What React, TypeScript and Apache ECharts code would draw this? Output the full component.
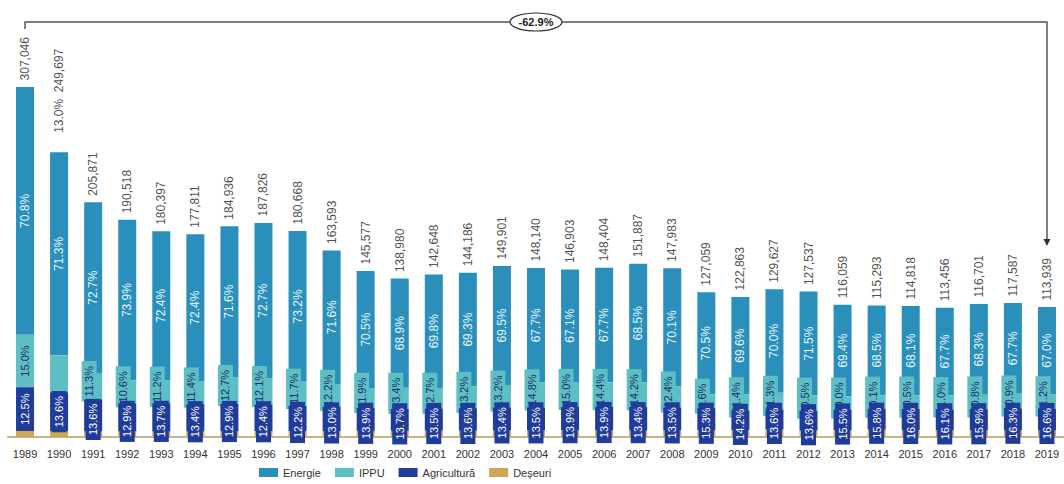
import React, { useEffect, useRef } from "react";
import * as echarts from "echarts";

const years = [
  "1989", "1990", "1991", "1992", "1993", "1994", "1995", "1996", "1997", "1998",
  "1999", "2000", "2001", "2002", "2003", "2004", "2005", "2006", "2007", "2008",
  "2009", "2010", "2011", "2012", "2013", "2014", "2015", "2016", "2017", "2018", "2019",
];
const totals = [
  307046, 249697, 205871, 190518, 180397, 177811, 184936, 187826, 180668, 163593,
  145577, 138980, 142648, 144186, 149901, 148140, 146903, 148404, 151887, 147983,
  127059, 122863, 129627, 127537, 116059, 115293, 114818, 113456, 116701, 117587, 113939,
];
const energiePct = [
  70.8, 71.3, 72.7, 73.9, 72.4, 72.4, 71.6, 72.7, 73.2, 71.6,
  70.5, 68.9, 69.8, 69.3, 69.5, 67.7, 67.1, 67.7, 68.5, 70.1,
  70.5, 69.6, 70.0, 71.5, 69.4, 68.5, 68.1, 67.7, 68.3, 67.7, 67.0,
];
const ippuPct = [
  15.0, 13.0, 11.3, 10.6, 11.2, 11.4, 12.7, 12.1, 11.7, 12.2,
  11.9, 13.4, 12.7, 13.2, 13.2, 14.8, 15.0, 14.4, 14.2, 12.4,
  9.6, 11.4, 11.3, 10.5, 10.0, 10.1, 10.5, 11.0, 10.8, 10.9, 11.2,
];
const agriPct = [
  12.5, 13.6, 13.6, 12.9, 13.7, 13.4, 12.9, 12.4, 12.2, 13.0,
  13.9, 13.7, 13.5, 13.6, 13.4, 13.5, 13.9, 13.9, 13.4, 13.5,
  15.3, 14.2, 13.6, 13.6, 15.5, 15.8, 16.0, 16.1, 15.9, 16.3, 16.6,
];
const seriesNames = ["Energie", "IPPU", "Agricultură", "Deșeuri"];

const COLORS = {
  energie: "#2b8fbc",
  ippu: "#5dbfc3",
  agri: "#1f3c9a",
  deseuri: "#cfa655",
};
const FONT = "Liberation Sans, Arial, sans-serif";

const fmtPct = (v: number) => v.toFixed(1) + "%";
const fmtTotal = (v: number) => v.toLocaleString("en-US");

export default function App() {
  const ref = useRef<HTMLDivElement>(null);

  useEffect(() => {
    if (!ref.current) return;
    const chart = echarts.init(ref.current, undefined, { renderer: "svg" });

    const deseuriPct = energiePct.map((e, i) => +(100 - e - ippuPct[i] - agriPct[i]).toFixed(1));
    const val = (pct: number[]) => pct.map((p, i) => (totals[i] * p) / 100);

    const energieData = val(energiePct);
    const ippuData = val(ippuPct).map((v, i) => {
      if (i === 1) return { value: v, label: { show: false } };
      if (i >= 2) return { value: v, label: { offset: [5, -4] } };
      return v;
    });
    const agriData = val(agriPct).map((v, i) => {
      if (i >= 2) return { value: v, label: { offset: [-4, 0] } };
      return v;
    });
    const deseuriData = val(deseuriPct);

    const totalData = totals.map((t, i) => {
      if (i === 1)
        return {
          value: t,
          label: {
            formatter: fmtPct(ippuPct[1]) + "  " + fmtTotal(t),
            distance: 19,
          },
        };
      return t;
    });

    chart.setOption({
      animation: false,
      textStyle: { fontFamily: FONT },
      grid: { left: 8, right: 0, top: 38, bottom: 47, containLabel: false },
      legend: {
        data: seriesNames,
        left: 254,
        top: 462,
        icon: "rect",
        itemWidth: 19,
        itemHeight: 9,
        itemGap: 14,
        textStyle: { fontSize: 11, color: "#333", fontFamily: FONT },
      },
      xAxis: {
        type: "category",
        data: years,
        axisLine: { lineStyle: { color: "#c8b488", width: 2 } },
        axisTick: { show: false },
        axisLabel: { fontSize: 11, color: "#333", margin: 11, interval: 0, fontFamily: FONT },
      },
      yAxis: {
        type: "value",
        min: 0,
        max: 350000,
        show: false,
        splitLine: { show: false },
      },
      series: [
        {
          name: "Deșeuri",
          type: "bar",
          stack: "total",
          barWidth: 18,
          data: deseuriData,
          itemStyle: { color: COLORS.deseuri },
          z: 2,
        },
        {
          name: "Agricultură",
          type: "bar",
          stack: "total",
          barWidth: 18,
          data: agriData,
          itemStyle: { color: COLORS.agri },
          z: 4,
          label: {
            show: true,
            position: "inside",
            rotate: 90,
            fontSize: 11,
            color: "#ffffff",
            backgroundColor: COLORS.agri,
            padding: [2, 5],
            fontFamily: FONT,
            formatter: (p: any) => fmtPct(agriPct[p.dataIndex]),
          },
        },
        {
          name: "IPPU",
          type: "bar",
          stack: "total",
          barWidth: 18,
          data: ippuData,
          itemStyle: { color: COLORS.ippu },
          z: 3,
          label: {
            show: true,
            position: "inside",
            rotate: 90,
            fontSize: 11,
            color: "#1b2d6b",
            backgroundColor: COLORS.ippu,
            padding: [2, 5],
            fontFamily: FONT,
            formatter: (p: any) => fmtPct(ippuPct[p.dataIndex]),
          },
        },
        {
          name: "Energie",
          type: "bar",
          stack: "total",
          barWidth: 18,
          data: energieData,
          itemStyle: { color: COLORS.energie },
          z: 2,
          label: {
            show: true,
            position: "inside",
            rotate: 90,
            fontSize: 12,
            color: "#e4f6fa",
            fontFamily: FONT,
            formatter: (p: any) => fmtPct(energiePct[p.dataIndex]),
          },
        },
        {
          name: "total",
          type: "scatter",
          data: totalData,
          symbolSize: 1,
          itemStyle: { color: "rgba(0,0,0,0)" },
          z: 5,
          label: {
            show: true,
            position: "top",
            rotate: 90,
            align: "left",
            verticalAlign: "middle",
            distance: 6,
            fontSize: 12,
            color: "#222",
            fontFamily: FONT,
            formatter: (p: any) => fmtTotal(totals[p.dataIndex]),
          },
        },
      ],
    });

    const last = years.length - 1;
    const pL = chart.convertToPixel({ xAxisIndex: 0, yAxisIndex: 0 }, [years[0], totals[0]]) as number[];
    const pR = chart.convertToPixel({ xAxisIndex: 0, yAxisIndex: 0 }, [years[last], totals[last]]) as number[];
    const xL = pL[0];
    const xR = pR[0];
    const yLine = 22;
    const tipY = pR[1] - 61;
    const midX = (xL + xR) / 2;
    const change = ((totals[last] / totals[0] - 1) * 100).toFixed(1) + "%";

    chart.setOption({
      graphic: [
        {
          type: "polyline",
          shape: { points: [[xL, 29], [xL, yLine], [xR, yLine], [xR, tipY - 6]] },
          style: { stroke: "#555", lineWidth: 1.5, fill: "none" },
          z: 10,
        },
        {
          type: "polygon",
          shape: { points: [[xR - 3.5, tipY - 7], [xR + 3.5, tipY - 7], [xR, tipY]] },
          style: { fill: "#333" },
          z: 10,
        },
        {
          type: "ellipse",
          shape: { cx: midX, cy: yLine, rx: 26, ry: 9 },
          style: { fill: "#fff", stroke: "#333", lineWidth: 1.2 },
          z: 11,
        },
        {
          type: "text",
          x: midX,
          y: yLine,
          style: {
            text: change,
            fontSize: 11,
            fontWeight: "bold",
            fontFamily: FONT,
            fill: "#222",
            align: "center",
            verticalAlign: "middle",
          },
          z: 12,
        },
      ],
    });

    return () => chart.dispose();
  }, []);

  return (
    <div
      ref={ref}
      style={{ position: "fixed", left: 0, top: 0, width: 1064, height: 484, background: "#fff" }}
    />
  );
}
